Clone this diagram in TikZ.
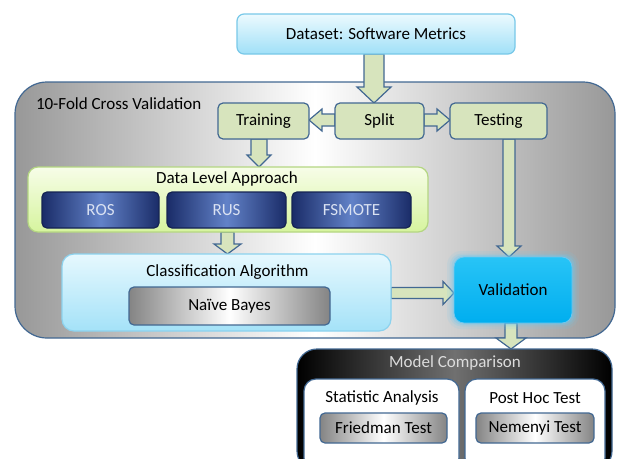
\documentclass[tikz,border=0pt]{standalone}
\usepackage{fontspec}
\setmainfont{Carlito}
\usetikzlibrary{calc}
\definecolor{bordc}{RGB}{66,104,146}
\definecolor{greenf}{RGB}{215,228,189}
\definecolor{dsTop}{RGB}{236,250,254}
\definecolor{dsBot}{RGB}{160,224,248}
\definecolor{dsBord}{RGB}{120,200,232}
\definecolor{outGray}{RGB}{152,152,152}
\definecolor{dlTop}{RGB}{247,253,232}
\definecolor{dlBot}{RGB}{214,244,158}
\definecolor{dlBord}{RGB}{180,214,130}
\definecolor{navyEdge}{RGB}{26,44,104}
\definecolor{navyMid}{RGB}{98,130,200}
\definecolor{navyText}{RGB}{218,226,242}
\definecolor{clTop}{RGB}{230,248,254}
\definecolor{clBot}{RGB}{164,226,248}
\definecolor{clBord}{RGB}{140,210,238}
\definecolor{grayEdge}{RGB}{132,132,132}
\definecolor{valFill}{RGB}{0,174,239}
\definecolor{valTop}{RGB}{40,196,246}
\definecolor{valGlow}{RGB}{110,200,240}
\definecolor{mcMid}{RGB}{112,112,112}
\definecolor{mcText}{RGB}{220,220,220}
\pgfdeclarelayer{back}
\pgfdeclarelayer{mid}
\pgfsetlayers{back,mid,main}
\tikzset{
  base/.style={inner sep=0pt, outer sep=0pt, line width=1.2pt, font=\fontsize{17}{19}\selectfont},
  greenbox/.style={base, draw=bordc, fill=greenf, rounded corners=5pt},
  navybox/.style={base, draw=navyEdge!80!black, rounded corners=5pt, left color=navyEdge, right color=navyEdge, middle color=navyMid, text=navyText},
  graybox/.style={base, draw=bordc, rounded corners=5pt, left color=grayEdge, right color=grayEdge, middle color=white},
  lbl/.style={inner sep=0pt, outer sep=0pt, font=\fontsize{17}{19}\selectfont},
  blockarr/.style={draw=bordc, fill=greenf, line width=1.2pt, line join=miter},
  glow/.style={fill=valGlow, rounded corners=14pt},
}
% #1 start, #2 end, #3 shaft half width, #4 head half width, #5 head length
\newcommand\blockarrow[5]{%
  \coordinate (tmpH) at ($(#2)!#5!(#1)$);
  \draw[blockarr] ($(#1)!#3!90:(#2)$) -- ($(tmpH)!#3!90:(#2)$) -- ($(tmpH)!#4!90:(#2)$)
    -- (#2) -- ($(tmpH)!#4!-90:(#2)$) -- ($(tmpH)!#3!-90:(#2)$) -- ($(#1)!#3!-90:(#2)$) -- cycle;
}
\begin{document}
\begin{tikzpicture}[x=1pt,y=-1pt]
\useasboundingbox (0,0) rectangle (618,458);
\clip (0,0) rectangle (618,458);
\begin{pgfonlayer}{back}
\node[base, draw=bordc, rounded corners=32pt, left color=outGray, right color=outGray, middle color=white,
  minimum width=600pt, minimum height=256pt] (outer) at (315,210) {};
\end{pgfonlayer}
\node[lbl, anchor=west] (cvlabel) at (36,104) {10-Fold Cross Validation};

% dataset
\node[base, draw=dsBord, rounded corners=7pt, top color=dsTop, bottom color=dsBot,
  minimum width=278pt, minimum height=40pt] (dataset) at (376,34) {Dataset: Software Metrics};

% split row
\node[greenbox, minimum width=89pt, minimum height=36pt] (split) at (379.5,121) {Split};
\node[greenbox, minimum width=91pt, minimum height=36pt] (training) at (263.5,121) {Training};
\node[greenbox, minimum width=97pt, minimum height=36pt] (testing) at (498.5,121) {Testing};

% data level approach
\node[base, draw=dlBord, rounded corners=10pt, top color=dlTop, bottom color=dlBot,
  minimum width=400pt, minimum height=65pt] (data) at (228,199.5) {};
\node[lbl] (datalbl) at (227,179) {Data Level Approach};
\node[navybox, minimum width=117pt, minimum height=36pt] (ros) at (100.5,210) {ROS};
\node[navybox, minimum width=119pt, minimum height=36pt] (rus) at (226.5,210) {RUS};
\node[navybox, minimum width=119pt, minimum height=36pt] (fsmote) at (351.5,210) {FSMOTE};

% classification
\node[base, draw=clBord, rounded corners=12pt, top color=clTop, bottom color=clBot,
  minimum width=329pt, minimum height=77pt] (class) at (226.5,292.5) {};
\node[lbl] (classlbl) at (227.5,272.5) {Classification Algorithm};
\node[graybox, minimum width=201pt, minimum height=38pt] (naive) at (229.5,306) {Naïve Bayes};

% validation with soft glow
\fill[glow, opacity=0.12] (447,251) rectangle (579,329);
\fill[glow, opacity=0.18, rounded corners=12pt] (449.5,253.5) rectangle (576.5,326.5);
\fill[glow, opacity=0.28, rounded corners=11pt] (451.5,255) rectangle (574.5,325);
\node[base, draw=valGlow, rounded corners=10pt, top color=valTop, bottom color=valFill, line width=0.8pt,
  minimum width=118pt, minimum height=66pt] (valid) at (513,290) {Validation};

% model comparison
\node[base, draw=bordc, rounded corners=20pt, left color=black, right color=black, middle color=mcMid,
  minimum width=315pt, minimum height=122pt] (model) at (454.5,410) {};
\node[lbl, text=mcText] (modellbl) at (455,363) {Model Comparison};
\node[base, draw=bordc, fill=white, rounded corners=12pt, minimum width=155pt, minimum height=91pt] (stat) at (381.5,424.5) {};
\node[base, draw=bordc, fill=white, rounded corners=12pt, minimum width=140pt, minimum height=91pt] (posthoc) at (535,424.5) {};
\node[lbl] (statlbl) at (382,398) {Statistic Analysis};
\node[lbl] (postlbl) at (535,398) {Post Hoc Test};
\node[graybox, minimum width=127pt, minimum height=30pt] (friedman) at (383.5,428) {Friedman Test};
\node[graybox, minimum width=118pt, minimum height=30pt] (nemenyi) at (535,428) {Nemenyi Test};

% arrows
\begin{pgfonlayer}{mid}
\coordinate (a1s) at ($(dataset.south)+(-2,0)$);
\coordinate (a1e) at (a1s |- split.north);
\blockarrow{a1s}{a1e}{10pt}{17pt}{16pt}
\coordinate (a2s) at ($(split.west)+(0,-1)$);
\coordinate (a2e) at (a2s -| training.east);
\blockarrow{a2s}{a2e}{6pt}{11pt}{13pt}
\coordinate (a3s) at ($(split.east)+(0,-1)$);
\coordinate (a3e) at (a3s -| testing.west);
\blockarrow{a3s}{a3e}{6pt}{11pt}{13pt}
\coordinate (a4s) at ($(training.south)+(-4.5,0)$);
\coordinate (a4e) at (a4s |- data.north);
\blockarrow{a4s}{a4e}{8pt}{12pt}{12pt}
\coordinate (a5s) at (data.south -| classlbl);
\coordinate (a5e) at (a5s |- class.north);
\blockarrow{a5s}{a5e}{6.5pt}{13.5pt}{10pt}
\coordinate (a6s) at ($(testing.south)+(10.5,0)$);
\coordinate (a6e) at (a6s |- valid.north);
\blockarrow{a6s}{a6e}{6pt}{12pt}{11pt}
\coordinate (a7s) at ($(class.east)+(0,0.5)$);
\coordinate (a7e) at (a7s -| valid.west);
\blockarrow{a7s}{a7e}{5.5pt}{11.5pt}{11pt}
\coordinate (a8s) at ($(valid.south)+(-2,0)$);
\coordinate (a8e) at (a8s |- model.north);
\blockarrow{a8s}{a8e}{6pt}{15pt}{11pt}
\end{pgfonlayer}
\end{tikzpicture}
\end{document}
